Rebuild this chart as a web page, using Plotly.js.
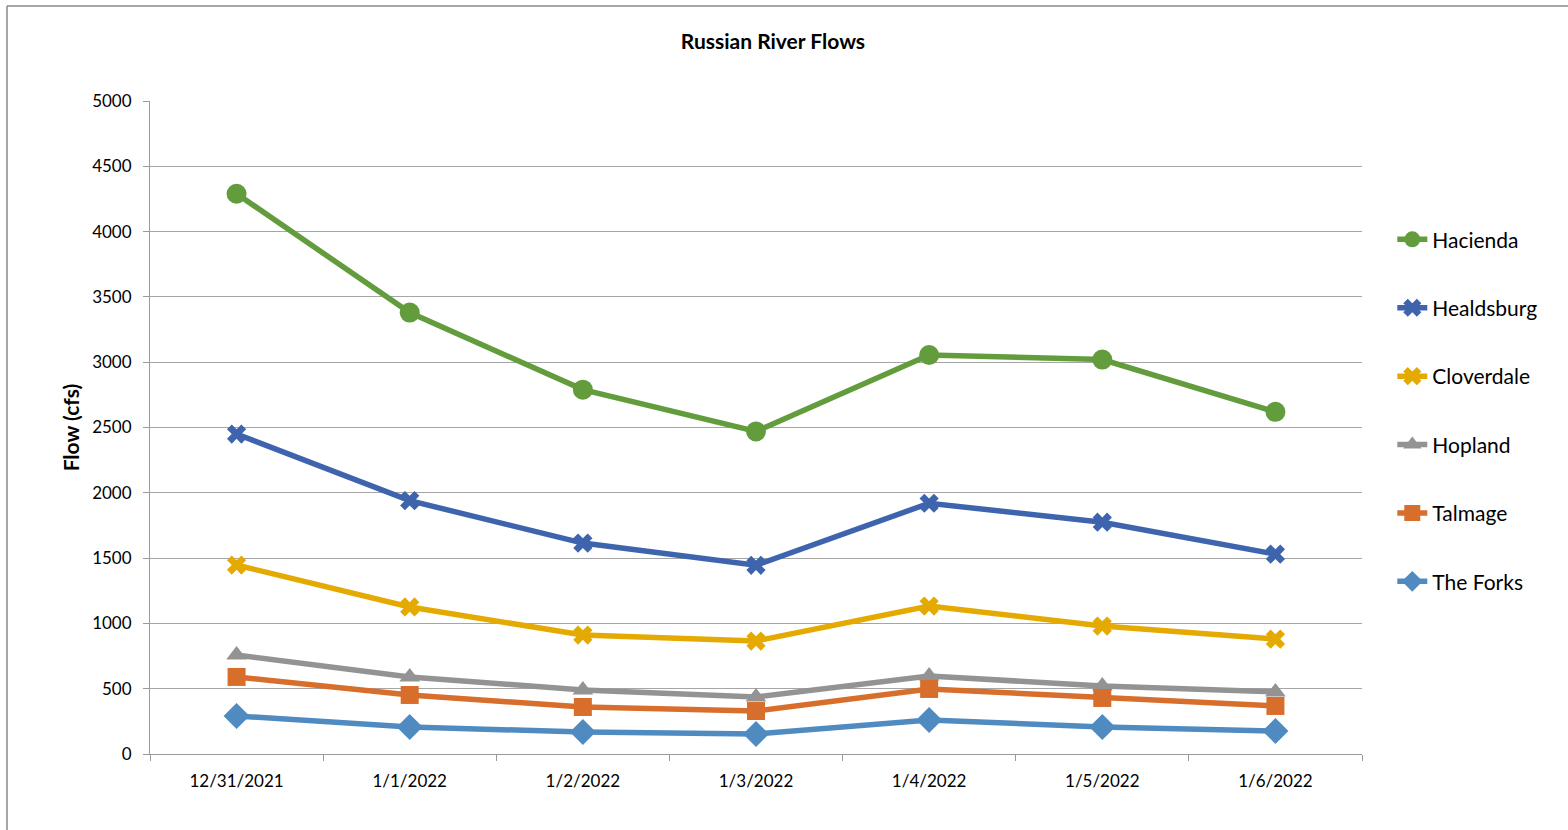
<!DOCTYPE html>
<html>
<head>
<meta charset="utf-8">
<script src="https://cdn.plot.ly/plotly-3.0.1.min.js"></script>
<style>html,body{margin:0;padding:0;background:#fff;}#chart{width:1568px;height:830px;}</style>
</head>
<body>
<div id="chart"></div>
<script>
const dates = ["12/31/2021","1/1/2022","1/2/2022","1/3/2022","1/4/2022","1/5/2022","1/6/2022"];
const hacienda   = [4290, 3380, 2790, 2470, 3055, 3020, 2620];
const healdsburg = [2450, 1940, 1615, 1445, 1920, 1775, 1530];
const cloverdale = [1447, 1126, 911, 865, 1133, 980, 880];
const hopland    = [758, 590, 490, 436, 597, 521, 475];
const talmage    = [590, 452, 360, 329, 498, 429, 368];
const theForks   = [291, 207, 168, 153, 260, 207, 176];

const FONT = "Lato, 'Noto Sans', sans-serif";
function tr(name, y, color, symbol, size){
  return {x: dates, y: y, name: name, type: 'scatter', mode: 'lines+markers',
    legendgroup: name,
    line: {color: color, width: 5.5},
    marker: {color: color, symbol: symbol, size: size, line: {width: 0}}};
}
const data = [
  tr('Hacienda', hacienda, '#629C3D', 'circle', 20),
  tr('Healdsburg', healdsburg, '#3E64AE', 'x', 17),
  tr('Cloverdale', cloverdale, '#E4AA02', 'x', 17),
  tr('Hopland', hopland, '#939393', 'triangle-up', 18),
  tr('Talmage', talmage, '#D86E2B', 'square', 18),
  tr('The Forks', theForks, '#4F8BC0', 'diamond', 20)
];
const layout = {
  width: 1568, height: 830,
  margin: {l: 150, r: 206, t: 101, b: 76},
  paper_bgcolor: '#fff', plot_bgcolor: '#fff',
  font: {family: FONT, color: '#000', size: 17},
  title: {text: '<b>Russian River Flows</b>', font: {family: FONT, size: 21, color: '#000'},
    x: 0.514, xref: 'paper', xanchor: 'center', y: 1 - 42/830, yref: 'container', yanchor: 'middle'},
  xaxis: {type: 'category', range: [-0.5, 6.5], tickson: 'boundaries', ticks: 'outside', ticklen: 6,
    tickcolor: '#9a9a9a', showline: true, linecolor: '#9a9a9a', linewidth: 1, showgrid: false,
    zeroline: false, ticklabelstandoff: 12, tickfont: {family: FONT, size: 17, color: '#000'}},
  yaxis: {range: [0, 5000], dtick: 500, tick0: 0, ticks: 'outside', ticklen: 6, tickcolor: '#9a9a9a',
    showline: true, linecolor: '#9a9a9a', linewidth: 1, showgrid: true, gridcolor: '#a6a6a6', gridwidth: 1,
    zeroline: false, ticklabelstandoff: 8, tickfont: {family: FONT, size: 17, color: '#000'},
    title: {text: '<b>Flow (cfs)</b>', font: {family: FONT, size: 21, color: '#000'}, standoff: 6}},
  legend: {x: 1.025, xanchor: 'left', y: 0.819, yanchor: 'top', tracegroupgap: 38.1,
    font: {family: FONT, size: 21, color: '#000'}, itemwidth: 30, bgcolor: 'rgba(0,0,0,0)'},
  shapes: [
    {type: 'line', xref: 'paper', yref: 'paper', x0: (7-150)/1212, x1: 1.2, y0: (754-6)/653, y1: (754-6)/653,
      line: {color: '#8a8a8a', width: 1.5}},
    {type: 'line', xref: 'paper', yref: 'paper', x0: (7-150)/1212, x1: (7-150)/1212, y0: (754-6)/653, y1: -0.2,
      line: {color: '#8a8a8a', width: 1.5}}
  ],
  showlegend: true
};
Plotly.newPlot('chart', data, layout, {displayModeBar: false, staticPlot: true});
</script>
</body>
</html>
